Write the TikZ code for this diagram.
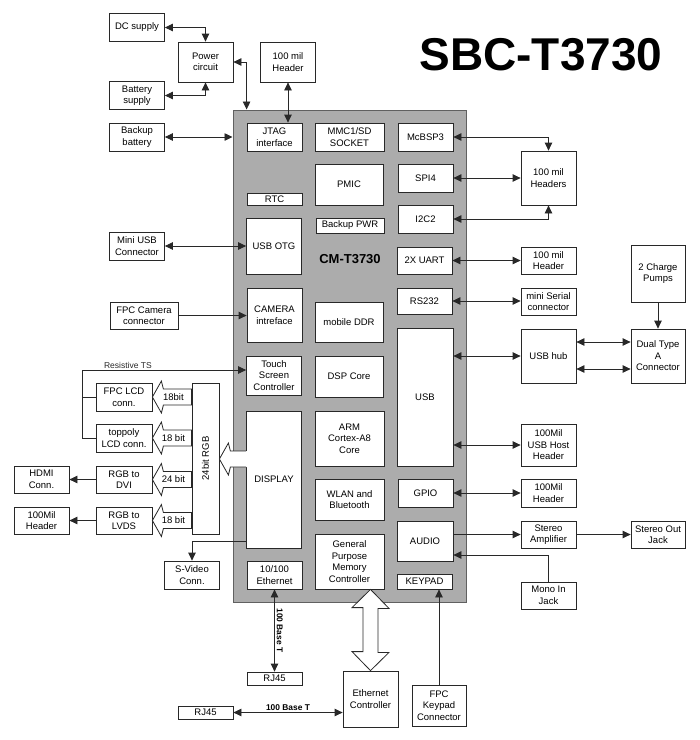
\documentclass[tikz,border=0pt]{standalone}
\usepackage{fontspec}
\setmainfont{Liberation Sans}
\usepackage{tikz}
\usetikzlibrary{arrows.meta,calc,shapes}

\definecolor{cmgray}{RGB}{172,172,172}
\definecolor{cmedge}{RGB}{96,96,96}
\definecolor{boxline}{RGB}{40,40,40}

\begin{document}
\begin{tikzpicture}[x=1pt, y=-1pt,
                    >={Triangle[length=8pt,width=7.5pt]},
                    every node/.append style={font=\fontsize{9.5}{11.5}\selectfont},
                    blk/.style={draw=boxline, line width=0.8pt, fill=white, align=center,
                                inner sep=1pt, minimum width=55, minimum height=28},
                    every edge/.append style={draw=boxline, line width=0.8pt},
                    hv/.style={to path={-| (\tikztotarget)}},
                    vh/.style={to path={|- (\tikztotarget)}},
                    bus/.style={draw=boxline, line width=0.8pt, fill=white},
                    bold/.style={font=\fontsize{8.4}{10}\selectfont\bfseries, inner sep=2pt}
                    ]
\useasboundingbox (0,0) rectangle (700,740);

\node[font=\fontsize{46}{50}\selectfont\bfseries, anchor=base] (title) at (541,70) {SBC-T3730};

% module
\node[draw=cmedge, line width=1pt, fill=cmgray, minimum width=233, minimum height=492] (cm) at (349.5,356) {};
\node[font=\fontsize{13}{15}\selectfont\bfseries] (cmlabel) at (350,259) {CM-T3730};

\node[blk]                                       (jtag)    at (274.5,137) {JTAG\\interface};
\node[blk, minimum width=69]                     (mmc)     at (349.5,137) {MMC1/SD\\SOCKET};
\node[blk]                                       (mcbsp)   at (425.5,137) {McBSP3};
\node[blk, minimum width=68, minimum height=41]  (pmic)    at (349,184.5) {PMIC};
\node[blk]                                       (spi)     at (425.5,178) {SPI4};
\node[blk, minimum height=12]                    (rtc)     at (274.5,199) {RTC};
\node[blk]                                       (i2c)     at (425.5,219) {I2C2};
\node[blk, minimum width=68, minimum height=15]  (bkpwr)   at (350,225.5) {Backup PWR};
\node[blk, minimum height=56]                    (usbotg)  at (274,246) {USB OTG};
\node[blk, minimum height=27]                    (uart)    at (424.5,260.5) {2X UART};
\node[blk, minimum height=54]                    (camera)  at (274.5,315) {CAMERA\\intreface};
\node[blk, minimum height=26]                    (rs232)   at (424.5,301) {RS232};
\node[blk, minimum width=68, minimum height=40]  (ddr)     at (349,322) {mobile DDR};
\node[blk, minimum width=56, minimum height=138] (usb)     at (425,397) {USB};
\node[blk, minimum height=39]                    (touch)   at (274,375.5) {Touch\\Screen\\Controller};
\node[blk, minimum width=68, minimum height=41]  (dsp)     at (349,376.5) {DSP Core};
\node[blk, minimum height=137]                   (display) at (274,479.5) {DISPLAY};
\node[blk, minimum width=69, minimum height=55]  (arm)     at (349.5,438.5) {ARM\\Cortex-A8\\Core};
\node[blk, minimum width=69, minimum height=41]  (wlan)    at (349.5,499.5) {WLAN and\\Bluetooth};
\node[blk]                                       (gpio)    at (425.5,493) {GPIO};
\node[blk, minimum width=56, minimum height=40]  (audio)   at (425,541) {AUDIO};
\node[blk, minimum width=69, minimum height=55]  (gpmc)    at (349.5,561.5) {General\\Purpose\\Memory\\Controller};
\node[blk]                                       (eth)     at (274.5,575) {10/100\\Ethernet};
\node[blk, minimum height=15]                    (keypad)  at (424.5,581.5) {KEYPAD};

% left side
\node[blk]                                       (dc)      at (137,27.5) {DC supply};
\node[blk, minimum height=40]                    (pwr)     at (205.5,62) {Power\\circuit};
\node[blk, minimum height=40]                    (hdra)    at (288,62) {100 mil\\Header};
\node[blk]                                       (batt)    at (137,95.5) {Battery\\supply};
\node[blk]                                       (bkbatt)  at (137,137) {Backup\\battery};
\node[blk]                                       (miniusb) at (137,246) {Mini USB\\Connector};
\node[blk, minimum width=68, minimum height=27]  (fpccam)  at (144,315.5) {FPC Camera\\connector};
\node[blk, minimum width=56]                     (fpclcd)  at (124,397) {FPC LCD\\conn.};
\node[blk, minimum width=56]                     (toppoly) at (124,438) {toppoly\\LCD conn.};
\node[blk, minimum width=56, minimum height=27]  (dvi)     at (124,479.5) {RGB to\\DVI};
\node[blk, minimum width=56, minimum height=27]  (lvds)    at (124,520.5) {RGB to\\LVDS};
\node[blk, minimum height=27]                    (hdmi)    at (41.5,479.5) {HDMI\\Conn.};
\node[blk, minimum height=27]                    (hdrl)    at (41.5,520.5) {100Mil\\Header};
\node[blk, minimum width=27, minimum height=151] (rgb)     at (205.5,458.5) {};
\node[rotate=90]                                 (rgblbl)  at (rgb.center) {24bit RGB};
\node[blk]                                       (svideo)  at (192,575) {S-Video\\Conn.};
\node[blk, minimum height=13]                    (rjb)     at (274.5,678.5) {RJ45};
\node[blk, minimum height=13]                    (rjc)     at (205.5,712.5) {RJ45};
\node[blk, minimum height=56]                    (ethctl)  at (370.5,699) {Ethernet\\Controller};
\node[blk, minimum width=54, minimum height=41]  (fpckey)  at (439,705.5) {FPC\\Keypad\\Connector};

% right side
\node[blk, minimum height=54]                    (hdrs)    at (548.5,178) {100 mil\\Headers};
\node[blk, minimum height=27]                    (hdru)    at (548.5,260.5) {100 mil\\Header};
\node[blk, minimum width=54, minimum height=57]  (pumps)   at (658,273.5) {2 Charge\\Pumps};
\node[blk, minimum height=27]                    (serial)  at (548.5,301.5) {mini Serial\\connector};
\node[blk, minimum height=54]                    (hub)     at (548.5,356) {USB hub};
\node[blk, minimum width=54, minimum height=54]  (dual)    at (658,356) {Dual Type\\A\\Connector};
\node[blk, minimum height=42]                    (usbhost) at (548.5,445) {100Mil\\USB Host\\Header};
\node[blk]                                       (hdrg)    at (548.5,493) {100Mil\\Header};
\node[blk, minimum height=27]                    (amp)     at (548.5,534.5) {Stereo\\Amplifier};
\node[blk, minimum width=54, minimum height=27]  (sout)    at (658,534.5) {Stereo Out\\Jack};
\node[blk, minimum height=27]                    (mono)    at (548.5,595.5) {Mono In\\Jack};

% buses
\foreach \tgt/\wid in {fpclcd/18bit, toppoly/18 bit, dvi/24 bit, lvds/18 bit}
  \draw[bus] (\tgt.east) -- ++(9,-16) -- ++(2,8) -- ([yshift=8pt]rgb.west |- \tgt.east)
        -- ([yshift=-8pt]rgb.west |- \tgt.east) -- ($(\tgt.east)+(11,8)$) -- ++(-2,8) -- cycle
        ($(\tgt.east)+(21,0)$) node {\wid};

\coordinate (dtip) at ([yshift=20.5pt]rgb.east |- display.west);
\fill[white] ([xshift=1pt,yshift=8pt]display.west |- dtip) -- ($(dtip)+(11,-8)$) -- ++(-2,-8)
        -- (dtip) -- ++(9,16) -- ++(2,-8) -- ([xshift=1pt,yshift=-8pt]display.west |- dtip) -- cycle;
\draw[boxline, line width=0.8pt] ([yshift=8pt]display.west |- dtip) -- ($(dtip)+(11,-8)$) -- ++(-2,-8)
        -- (dtip) -- ++(9,16) -- ++(2,-8) -- ([yshift=-8pt]display.west |- dtip);

\draw[bus] (gpmc.south -| ethctl.north) -- ++(18.5,19) -- ++(-11,0) -- ++(0,44) -- ++(11,0)
        -- (ethctl.north) -- ++(-18.5,-19) -- ++(11,0) -- ++(0,-44) -- ++(-11,0) -- cycle;

% links
\coordinate (tsbus) at (82,370);
\draw[boxline, line width=0.8pt, ->] (toppoly.west) -| (tsbus)
        -- node[pos=0.28, above, inner sep=1pt, font=\fontsize{8.5}{10}\selectfont] {Resistive TS} (tsbus -| touch.west);
\draw[boxline, line width=0.8pt] (fpclcd.west) -- (fpclcd.west -| tsbus);

\path[<->]
    (dc.east)      edge[hv] (pwr.north)
    (batt.east)    edge[hv] (pwr.south)
    (pwr.east)     edge[hv] (jtag.west |- cm.north)
    (hdra.south)   edge     (hdra.south |- jtag.north)
    (bkbatt.east)  edge     (bkbatt.east -| cm.west)
    (miniusb.east) edge     (miniusb.east -| usbotg.west)
    (eth.south)    edge node[bold, rotate=-90, anchor=south] {100 Base T} (rjb.north)
    (rjc.east)     edge node[bold, above] {100 Base T} (rjc.east -| ethctl.west)
    (mcbsp.east)   edge[hv] (hdrs.north)
    (spi.east)     edge     (hdrs.west)
    (i2c.east)     edge[hv] (hdrs.south)
    (uart.east)    edge     (uart.east -| hdru.west)
    (rs232.east)   edge     (rs232.east -| serial.west)
    (hub.west -| usb.east)     edge (hub.west)
    (usbhost.west -| usb.east) edge (usbhost.west)
    ([yshift=14pt]hub.east)    edge ([yshift=14pt]hub.east -| dual.west)
    ([yshift=-13pt]hub.east)   edge ([yshift=-13pt]hub.east -| dual.west)
    (gpio.east)    edge     (gpio.east -| hdrg.west);

\path[->]
    (fpccam.east)  edge     (fpccam.east -| camera.west)
    (dvi.west)     edge     (hdmi.east)
    (lvds.west)    edge     (hdrl.east)
    ([yshift=7pt]display.south west) edge[hv] (svideo.north)
    (fpckey.north) edge     (fpckey.north |- keypad.south)
    (amp.west -| audio.east) edge (amp.west)
    (amp.east)     edge     (sout.west)
    (pumps.south)  edge     (dual.north)
    (mono.north)   edge[vh] ([yshift=-14pt]audio.east);
\end{tikzpicture}
\end{document}
